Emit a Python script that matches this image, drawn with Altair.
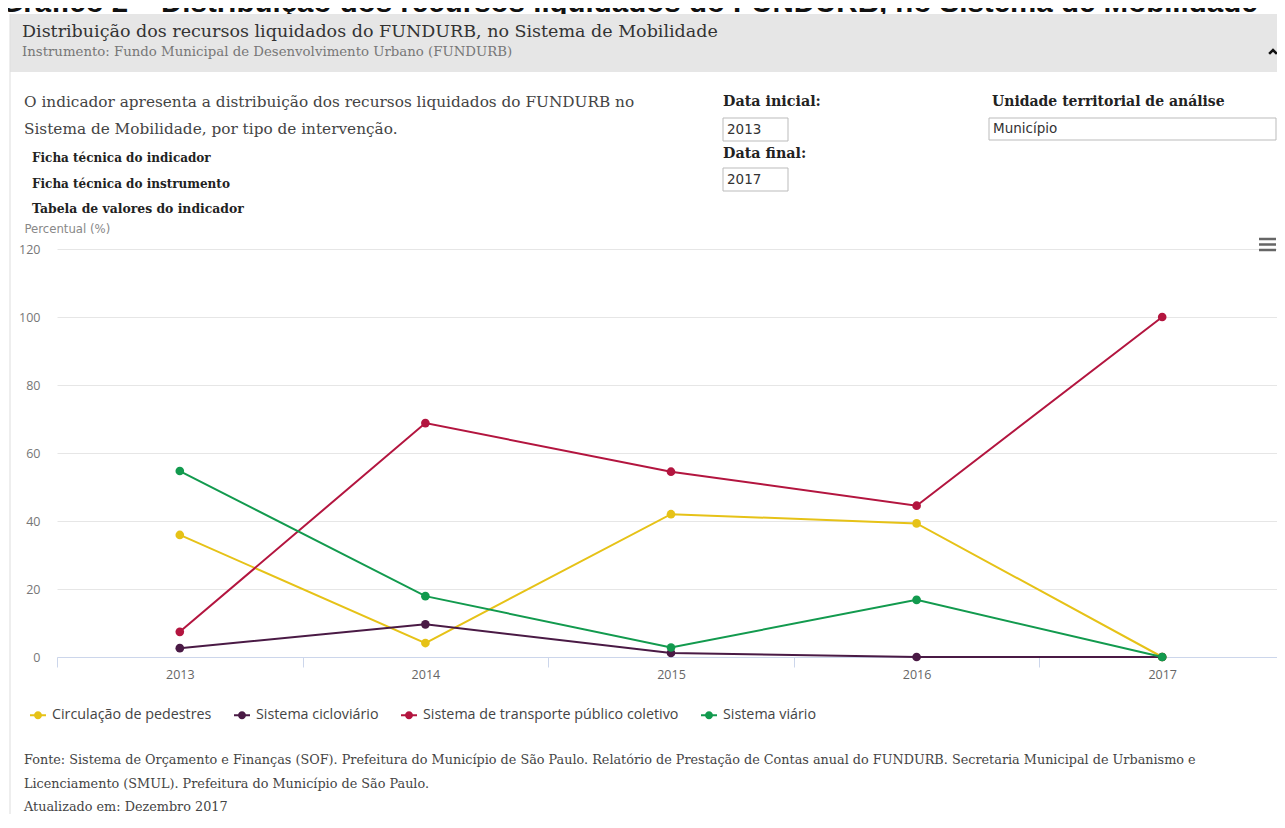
import altair as alt
import pandas as pd

# ---------------- data ----------------
years = ["2013", "2014", "2015", "2016", "2017"]
series_names = [
    "Circulação de pedestres",
    "Sistema cicloviário",
    "Sistema de transporte público coletivo",
    "Sistema viário",
]
pedestres = [35.9, 4.1, 42.0, 39.3, 0.0]
cicloviario = [2.6, 9.6, 1.2, 0.0, 0.0]
transporte = [7.4, 68.8, 54.5, 44.5, 100.0]
viario = [54.7, 17.9, 2.8, 16.8, 0.0]
series_colors = ["#E6C217", "#4A1A45", "#B3153F", "#129A4E"]
y_ticks = [0, 20, 40, 60, 80, 100, 120]

rows = []
for name, vals in zip(series_names, [pedestres, cicloviario, transporte, viario]):
    for yr, v in zip(years, vals):
        rows.append({"ano": yr, "serie": name, "valor": v})
df = pd.DataFrame(rows)

# ---------------- fonts / styles ----------------
SLAB = "'DejaVu Serif', 'Liberation Serif', serif"
COND = "'Liberation Sans Narrow', 'DejaVu Sans Condensed', 'Roboto Condensed', 'Liberation Sans', sans-serif"
LEG = "'Open Sans', 'Noto Sans', 'DejaVu Sans', sans-serif"
SANS = "'DejaVu Sans', 'Liberation Sans', sans-serif"
BOLD_SANS = "'Liberation Sans', Arial, sans-serif"

legend_symbol = ("M-1,-0.125L1,-0.125L1,0.125L-1,0.125Z "
                 "M0.5,0A0.5,0.5 0 1,1 -0.5,0A0.5,0.5 0 1,1 0.5,0Z")

PLOT_W = 1220      # visible plot width (page is 1285 wide, 8px body margin)
BAND_SPAN = 1228   # category axis runs to the right edge of the window

x_enc = alt.X(
    "ano:O",
    scale=alt.Scale(type="band", domain=years, paddingInner=0, paddingOuter=0,
                    range=[0, BAND_SPAN]),
    bandPosition=0.5,
    axis=alt.Axis(
        title=None, tickBand="extent", tickSize=10, tickColor="#CCD6EB",
        domainColor="#CCD6EB", labelColor="#666666", labelFont=LEG,
        labelFontSize=12.5, labelPadding=1, labelBaseline="top", grid=False,
        labelAngle=0,
    ),
)
y_enc = alt.Y(
    "valor:Q",
    scale=alt.Scale(domain=[0, 120], nice=False, zero=True),
    axis=alt.Axis(
        values=y_ticks, title="Percentual (%)", titleAngle=0, titleAlign="left",
        titleBaseline="alphabetic", titleX=-33, titleY=-17, titleFont=COND,
        titleFontSize=13, titleFontWeight="normal", titleColor="#888888",
        labelFont=LEG, labelFontSize=12.5, labelColor="#777777", labelPadding=17,
        ticks=False, domain=False, grid=True, gridColor="#E6E6E6", gridWidth=1,
    ),
)
color_enc = alt.Color(
    "serie:N",
    scale=alt.Scale(domain=series_names, range=series_colors),
    legend=alt.Legend(
        title=None, orient="none", legendX=-27, legendY=458, direction="horizontal",
        symbolType=legend_symbol, symbolSize=256, symbolStrokeWidth=0,
        symbolOpacity=1, labelFont=LEG, labelFontSize=14.3, labelColor="#444444",
        labelOffset=6, columnPadding=22, labelLimit=0,
    ),
)

base = alt.Chart(df).encode(x=x_enc, y=y_enc, color=color_enc)
lines = base.mark_line(strokeWidth=2)
points = base.mark_point(filled=True, size=75, opacity=1)

one = pd.DataFrame({"k": [0]})


def txt(text, x, y, font, size, color="#333333", weight="normal", align="left"):
    return alt.Chart(one).mark_text(
        text=text, align=align, baseline="alphabetic", font=font, fontSize=size,
        color=color, fontWeight=weight,
    ).encode(x=alt.value(x), y=alt.value(y))


def box(x1, x2, y1, y2, fill, stroke=None):
    kw = {"fill": fill}
    if stroke:
        kw["stroke"] = stroke
        kw["strokeWidth"] = 1
    return alt.Chart(one).mark_rect(**kw).encode(
        x=alt.value(x1), x2=alt.value(x2), y=alt.value(y1), y2=alt.value(y2))


def rule(x1, x2, y1, y2, color, width):
    return alt.Chart(one).mark_rule(color=color, strokeWidth=width).encode(
        x=alt.value(x1), x2=alt.value(x2), y=alt.value(y1), y2=alt.value(y2))


# page coordinates -> plot coordinates: rx = X - 57, ry = Y - 249
deco = [
    txt("Gráfico 2 – Distribuição dos recursos liquidados do FUNDURB, no Sistema de Mobilidade",
        572, -237, BOLD_SANS, 29.5, "#111111", "bold", "center"),
    box(-47, 1228, -235, -177, "#E6E6E6"),
    rule(-47, -47, -235, 579, "#DDDDDD", 1),
    txt("Distribuição dos recursos liquidados do FUNDURB, no Sistema de Mobilidade",
        -35, -212, SLAB, 17.5, "#333333"),
    txt("Instrumento: Fundo Municipal de Desenvolvimento Urbano (FUNDURB)",
        -35, -193, SLAB, 13.3, "#777777"),
    alt.Chart(one).mark_point(shape="M-1,0.5L0,-0.5L1,0.5", filled=False, color="#111111",
                              strokeWidth=2.5, size=60, opacity=1).encode(
        x=alt.value(1216), y=alt.value(-197)),
    txt("O indicador apresenta a distribuição dos recursos liquidados do FUNDURB no",
        -33, -142, SLAB, 15.3, "#444444"),
    txt("Sistema de Mobilidade, por tipo de intervenção.", -33, -115, SLAB, 15.3, "#444444"),
    txt("Ficha técnica do indicador", -25, -87, SLAB, 12, "#222222", "bold"),
    txt("Ficha técnica do instrumento", -25, -61, SLAB, 12, "#222222", "bold"),
    txt("Tabela de valores do indicador", -25, -36, SLAB, 12.4, "#222222", "bold"),
    txt("Data inicial:", 666, -143, SLAB, 14.3, "#222222", "bold"),
    box(666, 731, -131, -108, "#FFFFFF", "#BBBBBB"),
    txt("2013", 670, -115, SANS, 13.5, "#333333"),
    txt("Data final:", 666, -91, SLAB, 14.3, "#222222", "bold"),
    box(666, 731, -81, -58, "#FFFFFF", "#BBBBBB"),
    txt("2017", 670, -65, SANS, 13.5, "#333333"),
    txt("Unidade territorial de análise", 935, -143, SLAB, 14, "#222222", "bold"),
    box(932, 1219, -131, -109, "#FFFFFF", "#BBBBBB"),
    txt("Município", 936, -116, SANS, 13.5, "#333333"),
    rule(1202, 1219, -10, -10, "#666666", 2.5),
    rule(1202, 1219, -4.5, -4.5, "#666666", 2.5),
    rule(1202, 1219, 1, 1, "#666666", 2.5),
    txt("Fonte: Sistema de Orçamento e Finanças (SOF). Prefeitura do Município de São Paulo. "
        "Relatório de Prestação de Contas anual do FUNDURB. Secretaria Municipal de Urbanismo e",
        -33, 515, SLAB, 12.8, "#444444"),
    txt("Licenciamento (SMUL). Prefeitura do Município de São Paulo.", -33, 539, SLAB, 12.8, "#444444"),
    txt("Atualizado em: Dezembro 2017", -33, 562, SLAB, 12.8, "#444444"),
]

chart = alt.layer(*deco, lines, points).properties(
    width=PLOT_W, height=408,
    autosize=alt.AutoSizeParams(type="none"),
    padding={"left": 49, "top": 241, "right": 0, "bottom": 157},
    background="#FFFFFF",
).configure_view(stroke=None)

chart.save("out.html", embed_options={"renderer": "svg", "actions": False})
